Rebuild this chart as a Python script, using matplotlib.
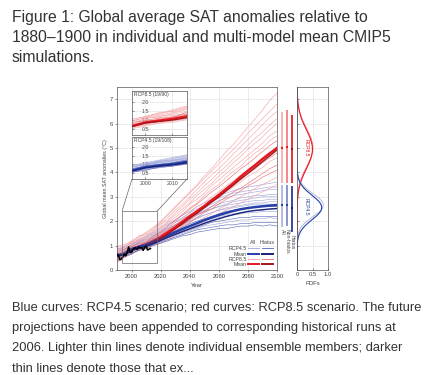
import numpy as np
import matplotlib
matplotlib.use("Agg")
import matplotlib.pyplot as plt
from matplotlib.patches import Rectangle, ConnectionPatch

plt.rcParams['font.family'] = ['Liberation Sans', 'DejaVu Sans']

# ---------------- data ----------------
years5 = list(range(1990, 2101, 5))

rcp85_members = [
    [0.45,0.55,0.70,0.82,0.92,1.05,1.10,1.30,1.45,1.60,1.80,1.95,2.15,2.30,2.50,2.65,2.85,3.00,3.15,3.35,3.50,3.65,3.80],
    [0.70,0.60,0.90,1.00,1.05,1.25,1.35,1.50,1.70,1.85,2.05,2.25,2.40,2.60,2.80,3.00,3.20,3.35,3.55,3.75,3.95,4.15,4.30],
    [0.55,0.75,0.80,1.05,1.15,1.20,1.45,1.60,1.75,2.00,2.20,2.35,2.60,2.80,2.95,3.20,3.40,3.60,3.85,4.00,4.20,4.45,4.60],
    [0.80,0.70,1.00,0.95,1.20,1.35,1.50,1.70,1.95,2.10,2.35,2.60,2.75,3.00,3.20,3.45,3.65,3.90,4.10,4.35,4.55,4.80,5.00],
    [0.50,0.85,0.95,1.10,1.10,1.40,1.55,1.80,2.05,2.25,2.50,2.70,2.95,3.20,3.40,3.65,3.90,4.15,4.35,4.60,4.85,5.10,5.30],
    [0.90,0.80,1.05,1.20,1.30,1.45,1.70,1.95,2.15,2.40,2.70,2.90,3.15,3.45,3.70,3.95,4.20,4.45,4.70,4.95,5.20,5.50,5.70],
    [0.65,0.95,1.10,1.25,1.40,1.60,1.85,2.05,2.35,2.60,2.90,3.15,3.45,3.70,4.00,4.25,4.55,4.80,5.10,5.40,5.65,5.95,6.20],
    [0.75,1.00,1.20,1.35,1.55,1.75,2.00,2.25,2.55,2.85,3.15,3.45,3.75,4.05,4.35,4.65,4.95,5.25,5.60,5.90,6.20,6.50,6.80],
    [0.35,0.60,0.75,0.90,1.00,1.15,1.30,1.40,1.60,1.80,1.95,2.15,2.35,2.50,2.70,2.90,3.05,3.25,3.45,3.60,3.80,3.95,4.10],
    [1.00,0.90,1.15,1.30,1.50,1.70,1.95,2.30,2.60,2.90,3.20,3.50,3.85,4.15,4.50,4.85,5.15,5.50,5.85,6.20,6.55,6.95,7.25],
    [0.60,0.80,0.85,1.10,1.25,1.30,1.60,1.85,2.00,2.30,2.55,2.75,3.05,3.30,3.50,3.80,4.05,4.25,4.55,4.80,5.00,5.30,5.50],
    [0.40,0.70,0.90,1.00,1.15,1.30,1.45,1.65,1.85,2.05,2.25,2.45,2.65,2.90,3.10,3.30,3.55,3.75,3.95,4.15,4.40,4.60,4.80],
    [0.85,0.75,1.10,1.15,1.35,1.55,1.75,2.00,2.25,2.50,2.75,3.05,3.30,3.55,3.85,4.10,4.40,4.65,4.95,5.20,5.45,5.75,6.00],
    [0.30,0.50,0.65,0.80,0.85,1.00,1.10,1.20,1.40,1.55,1.70,1.85,2.00,2.15,2.30,2.45,2.60,2.75,2.90,3.05,3.20,3.35,3.50],
    [0.95,1.05,1.15,1.40,1.45,1.65,1.90,2.15,2.45,2.70,3.00,3.30,3.60,3.90,4.15,4.45,4.75,5.05,5.35,5.65,5.95,6.25,6.50],
]
rcp85_hiatus_flag = [False, True, False, False, True, False, False, False, True, False,
                     False, True, False, False, False]

rcp45_members = [
    [0.45,0.55,0.70,0.80,0.90,1.00,1.10,1.20,1.30,1.40,1.45,1.55,1.60,1.65,1.70,1.70,1.75,1.80,1.80,1.85,1.80,1.85,1.80],
    [0.60,0.50,0.80,0.90,0.95,1.05,1.20,1.30,1.40,1.50,1.60,1.70,1.80,1.85,1.90,1.95,2.00,2.05,2.05,2.10,2.10,2.15,2.10],
    [0.70,0.65,0.85,0.95,1.05,1.15,1.25,1.40,1.50,1.65,1.75,1.85,1.95,2.05,2.15,2.20,2.25,2.30,2.35,2.35,2.40,2.40,2.40],
    [0.55,0.75,0.90,1.00,1.10,1.25,1.35,1.50,1.60,1.75,1.90,2.00,2.10,2.20,2.30,2.40,2.45,2.50,2.55,2.55,2.60,2.60,2.60],
    [0.80,0.70,0.95,1.05,1.15,1.25,1.40,1.55,1.70,1.85,2.00,2.10,2.25,2.35,2.45,2.55,2.60,2.65,2.70,2.75,2.75,2.80,2.80],
    [0.65,0.85,1.00,1.10,1.20,1.35,1.50,1.65,1.80,1.95,2.10,2.25,2.40,2.50,2.60,2.70,2.80,2.85,2.90,2.95,3.00,3.00,3.00],
    [0.90,0.80,1.05,1.15,1.30,1.45,1.60,1.75,1.95,2.10,2.25,2.40,2.55,2.70,2.85,2.95,3.05,3.10,3.15,3.20,3.25,3.30,3.30],
    [0.75,0.95,1.10,1.25,1.40,1.55,1.75,1.90,2.05,2.25,2.40,2.60,2.75,2.90,3.05,3.15,3.25,3.35,3.40,3.45,3.50,3.55,3.60],
    [0.40,0.60,0.75,0.85,1.00,1.10,1.20,1.35,1.45,1.55,1.65,1.75,1.85,1.95,2.00,2.05,2.10,2.15,2.15,2.20,2.20,2.20,2.20],
    [0.85,0.95,1.00,1.20,1.25,1.40,1.55,1.70,1.85,2.00,2.15,2.30,2.40,2.50,2.60,2.65,2.70,2.75,2.80,2.85,2.85,2.90,2.90],
    [0.50,0.70,0.85,0.95,1.05,1.20,1.30,1.45,1.55,1.70,1.80,1.90,2.00,2.10,2.20,2.25,2.30,2.35,2.40,2.45,2.45,2.50,2.50],
    [0.70,0.90,0.95,1.15,1.25,1.35,1.55,1.70,1.85,2.00,2.15,2.30,2.45,2.60,2.70,2.80,2.85,2.95,3.00,3.05,3.05,3.10,3.10],
    [0.35,0.55,0.65,0.85,0.90,1.05,1.15,1.25,1.35,1.45,1.55,1.65,1.70,1.75,1.80,1.85,1.85,1.90,1.90,1.95,1.95,1.95,1.95],
    [0.95,0.75,0.95,1.10,1.20,1.30,1.45,1.60,1.75,1.90,2.00,2.15,2.25,2.35,2.45,2.50,2.55,2.60,2.65,2.70,2.70,2.70,2.70],
    [0.60,0.85,1.05,1.20,1.35,1.50,1.65,1.85,2.00,2.15,2.35,2.50,2.65,2.80,2.95,3.05,3.15,3.20,3.25,3.30,3.35,3.40,3.40],
]
rcp45_hiatus_flag = [True, False, False, True, False, False, False, False, True, False,
                     False, False, True, False, False]

rcp85_mean = [0.60,0.65,0.85,0.95,1.05,1.18,1.35,1.55,1.75,1.97,2.20,2.40,2.62,2.85,3.08,3.32,3.56,3.82,4.07,4.30,4.55,4.78,5.00]
rcp85_hiatus_mean = [0.58,0.62,0.82,0.90,0.98,1.10,1.28,1.48,1.68,1.90,2.12,2.33,2.55,2.78,3.00,3.24,3.48,3.72,3.96,4.20,4.44,4.68,4.92]
rcp45_mean = [0.60,0.65,0.85,0.95,1.03,1.15,1.28,1.42,1.55,1.68,1.80,1.92,2.04,2.15,2.25,2.34,2.42,2.49,2.54,2.58,2.61,2.64,2.66]
rcp45_hiatus_mean = [0.57,0.62,0.80,0.90,0.97,1.08,1.21,1.34,1.46,1.58,1.69,1.80,1.91,2.01,2.10,2.19,2.27,2.34,2.40,2.44,2.47,2.50,2.52]

obs_years = list(range(1990, 2014))
obs_vals = [0.65,0.60,0.42,0.45,0.55,0.65,0.58,0.72,0.95,0.72,0.72,0.85,0.90,0.90,0.85,0.95,0.90,0.92,0.80,0.92,0.98,0.82,0.85,0.88]

bar_groups = ["All", "Non-hiatus", "Hiatus"]
rcp85_bar_lo = [3.57, 3.57, 3.57]
rcp85_bar_hi = [6.49, 6.55, 6.35]
rcp85_bar_mid = [5.01, 5.03, 4.95]
rcp45_bar_lo = [1.78, 1.80, 1.57]
rcp45_bar_hi = [3.48, 3.48, 3.44]
rcp45_bar_mid = [2.65, 2.66, 2.53]

pdf_labels = ["RCP8.5 all", "RCP8.5 hiatus", "RCP4.5 all", "RCP4.5 hiatus"]
pdf_mu = [5.02, 4.95, 2.66, 2.56]
pdf_sd = [0.78, 0.80, 0.47, 0.50]

# ---------------- colours ----------------
c_r_light = '#f5a3a6'
c_r_hi = '#e9666a'
c_r_mean = '#e8161e'
c_r_dark = '#a4141b'
c_b_light = '#a0a6dc'
c_b_hi = '#5560b5'
c_b_mean = '#2540a8'
c_b_dark = '#16247a'
txt = '#333333'
W, H = 424, 375

fig = plt.figure(figsize=(W/100, H/100), dpi=100)
fig.patch.set_facecolor('white')

def fx(px):
    return px / W
def fy(py):
    return 1 - py / H

# title
title_lines = ["Figure 1: Global average SAT anomalies relative to",
               "1880\u20131900 in individual and multi-model mean CMIP5",
               "simulations."]
for i, t in enumerate(title_lines):
    fig.text(fx(12), fy(21.7 + 20 * i), t, fontsize=11.35, color=txt, va='baseline', ha='left')

caption_lines = ["Blue curves: RCP4.5 scenario; red curves: RCP8.5 scenario. The future",
                 "projections have been appended to corresponding historical runs at",
                 "2006. Lighter thin lines denote individual ensemble members; darker",
                 "thin lines denote those that ex..."]
for i, t in enumerate(caption_lines):
    fig.text(fx(12), fy(310 + 20.6 * i), t, fontsize=9.3, color=txt, va='baseline', ha='left')

grid_kw = dict(color='#c8c8c8', lw=0.4, linestyle=(0, (2, 1.5)))

# ---------------- main axes ----------------
ax = fig.add_axes([fx(117), fy(270), fx(277) - fx(117), fy(87) - fy(270)])
ax.set_xlim(1990, 2100)
ax.set_ylim(0, 7.5)
ax.set_xticks([2000, 2020, 2040, 2060, 2080, 2100])
ax.set_yticks(range(0, 8))
ax.grid(True, **grid_kw)
ax.set_axisbelow(True)
ax.tick_params(labelsize=4.2, length=1.5, width=0.4, pad=1.5, colors='#444444')
for s in ax.spines.values():
    s.set_linewidth(0.5)
    s.set_color('#555555')
ax.set_xlabel("Year", fontsize=4.2, color='#444444', labelpad=3)
ax.set_ylabel("Global mean SAT anomalies (\u00b0C)", fontsize=3.8, color='#444444', labelpad=1)

def draw_members(a, members, flags, c_light, c_hi, lw):
    for m, h in zip(members, flags):
        if not h:
            a.plot(years5, m, color=c_light, lw=lw, alpha=0.95, zorder=2)
    for m, h in zip(members, flags):
        if h:
            a.plot(years5, m, color=c_hi, lw=lw, alpha=0.9, zorder=3)

draw_members(ax, rcp45_members, rcp45_hiatus_flag, c_b_light, c_b_hi, 0.45)
draw_members(ax, rcp85_members, rcp85_hiatus_flag, c_r_light, c_r_hi, 0.45)
ax.plot(years5, rcp85_mean, color=c_r_mean, lw=1.8, zorder=4)
ax.plot(years5, rcp85_hiatus_mean, color=c_r_dark, lw=1.0, zorder=5)
ax.plot(years5, rcp45_mean, color=c_b_mean, lw=1.8, zorder=4)
ax.plot(years5, rcp45_hiatus_mean, color=c_b_dark, lw=1.0, zorder=5)
ax.plot(obs_years, obs_vals, color='black', lw=1.1, zorder=6)

# zoom box
zx0, zx1, zy0, zy1 = 1993.5, 2017.7, 0.27, 2.42
ax.add_patch(Rectangle((zx0, zy0), zx1 - zx0, zy1 - zy0, fill=False, ec='#666666', lw=0.5, zorder=7))

# legend drawn manually
lx_lab = 0.81
rows = [("RCP4.5", c_b_light, c_b_hi, 0.6, 0.6),
        ("Mean", c_b_mean, c_b_dark, 1.4, 1.4),
        ("RCP8.5", c_r_light, c_r_hi, 0.6, 0.6),
        ("Mean", c_r_mean, c_r_dark, 1.4, 1.4)]
row_y = [0.119, 0.087, 0.058, 0.031]
ax.text(0.853, 0.149, "All", transform=ax.transAxes, fontsize=3.8, color='#444444', ha='center', va='center')
ax.text(0.94, 0.149, "Hiatus", transform=ax.transAxes, fontsize=3.8, color='#444444', ha='center', va='center')
for (lab, c1, c2, w1, w2), yy in zip(rows, row_y):
    ax.text(lx_lab, yy, lab, transform=ax.transAxes, fontsize=3.8, color='#444444', ha='right', va='center')
    ax.plot([0.82, 0.885], [yy, yy], transform=ax.transAxes, color=c1, lw=w1, zorder=8)
    ax.plot([0.905, 0.975], [yy, yy], transform=ax.transAxes, color=c2, lw=w2, zorder=8)

# ---------------- insets ----------------
ins_top = fig.add_axes([fx(132), fy(135), fx(187) - fx(132), fy(91) - fy(135)])
ins_bot = fig.add_axes([fx(132), fy(179), fx(187) - fx(132), fy(137) - fy(179)])
for a, name in [(ins_top, "RCP8.5 (19/90)"), (ins_bot, "RCP4.5 (19/108)")]:
    a.set_facecolor('white')
    a.set_xlim(1995, 2015.5)
    a.set_ylim(0.15, 2.6)
    a.set_yticks([0.5, 1.0, 1.5, 2.0])
    a.set_xticks([2000, 2010])
    a.grid(True, **grid_kw)
    a.set_axisbelow(True)
    a.tick_params(labelsize=3.8, length=1.2, width=0.4, direction='in', colors='#444444')
    a.tick_params(axis='y', pad=-7)
    for s in a.spines.values():
        s.set_linewidth(0.5)
        s.set_color('#555555')
    a.text(0.04, 0.975, name, transform=a.transAxes, fontsize=3.6, color='#444444', va='top', ha='left', zorder=9)

draw_members(ins_top, rcp85_members, rcp85_hiatus_flag, c_r_light, c_r_hi, 0.4)
ins_top.plot(years5, rcp85_mean, color=c_r_mean, lw=1.6, zorder=4)
ins_top.plot(years5, rcp85_hiatus_mean, color=c_r_dark, lw=1.0, zorder=5)
draw_members(ins_bot, rcp45_members, rcp45_hiatus_flag, c_b_light, c_b_hi, 0.4)
ins_bot.plot(years5, rcp45_mean, color=c_b_mean, lw=1.6, zorder=4)
ins_bot.plot(years5, rcp45_hiatus_mean, color=c_b_dark, lw=1.0, zorder=5)
ins_top.tick_params(axis='x', labelbottom=False)
for lbl in ins_top.get_yticklabels() + ins_bot.get_yticklabels():
    lbl.set_horizontalalignment('left')
ins_bot.tick_params(axis='x', pad=1.5)

for (xa, xb) in [((zx0, zy1), (0, 0)), ((zx1, zy1), (1, 0))]:
    con = ConnectionPatch(xyA=xa, coordsA=ax.transData, xyB=xb, coordsB=ins_bot.transAxes,
                          color='#666666', lw=0.5)
    fig.add_artist(con)

# ---------------- bars ----------------
axb = fig.add_axes([fx(278), fy(270), fx(296) - fx(278), fy(87) - fy(270)])
axb.set_xlim(-0.8, 2.8)
axb.set_ylim(0, 7.5)
axb.axis('off')
xb = np.arange(len(bar_groups))
r_cols = ['#f7b3b6', '#f28a8e', '#e8383e']
b_cols = ['#b7bbe2', '#8e95d0', '#3d4ca8']
r_dot = ['#e8161e', '#e8161e', '#a4141b']
b_dot = ['#2540a8', '#2540a8', '#16247a']
axb.bar(xb, np.array(rcp85_bar_hi) - np.array(rcp85_bar_lo), bottom=rcp85_bar_lo, width=0.5, color=r_cols)
axb.bar(xb, np.array(rcp45_bar_hi) - np.array(rcp45_bar_lo), bottom=rcp45_bar_lo, width=0.5, color=b_cols)
axb.scatter(xb, rcp85_bar_mid, marker='s', s=1.5, c=r_dot, zorder=3, linewidths=0)
axb.scatter(xb, rcp45_bar_mid, marker='s', s=1.5, c=b_dot, zorder=3, linewidths=0)
for x, lab, lo in zip(xb, bar_groups, rcp45_bar_lo):
    axb.text(x, lo - 0.12, lab, rotation=270, fontsize=3.6, color='#444444', ha='center', va='top')

# ---------------- PDFs ----------------
axp = fig.add_axes([fx(297), fy(270), fx(328) - fx(297), fy(87) - fy(270)])
axp.set_xlim(0, 1.0)
axp.set_ylim(0, 7.5)
axp.set_xticks([0, 0.5, 1.0])
axp.set_xticklabels(["0", "0.5", "1.0"])
axp.set_yticks(range(0, 8))
axp.tick_params(labelsize=4.2, length=1.2, width=0.4, pad=1.5, colors='#444444', labelleft=False, direction='in')
axp.grid(True, **grid_kw)
axp.set_axisbelow(True)
for s in axp.spines.values():
    s.set_linewidth(0.5)
    s.set_color('#555555')
axp.set_xlabel("PDFs", fontsize=4.2, color='#444444', labelpad=3)
yy = np.linspace(0, 7.5, 400)
pdf_cols = ['#f08a8e', c_r_mean, '#aab0e0', c_b_mean]
pdf_lw = [0.6, 0.8, 0.6, 0.8]
for mu, sd, c, lw in zip(pdf_mu, pdf_sd, pdf_cols, pdf_lw):
    pdf = np.exp(-0.5 * ((yy - mu) / sd) ** 2) / (sd * np.sqrt(2 * np.pi))
    axp.plot(pdf, yy, color=c, lw=lw)
axp.text(0.3, 5.0, "RCP8.5", rotation=270, fontsize=3.6, color=c_r_mean, ha='center', va='center')
axp.text(0.3, 2.6, "RCP4.5", rotation=270, fontsize=3.6, color=c_b_mean, ha='center', va='center')

fig.savefig("out.png", dpi=100, facecolor='white')
